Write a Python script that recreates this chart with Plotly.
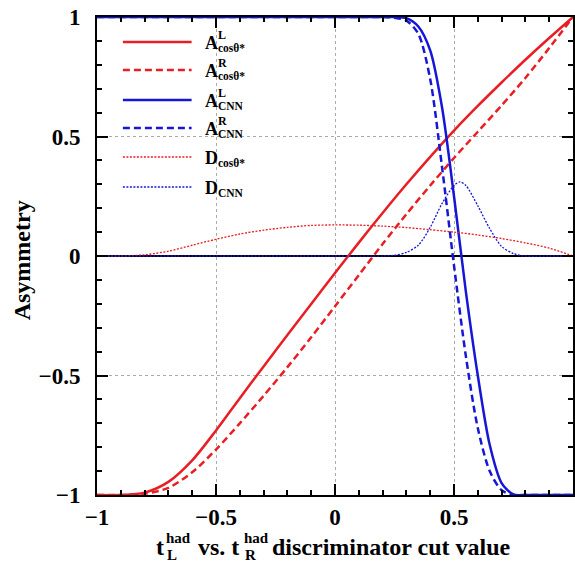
import plotly.graph_objects as go

# ---------------- data ----------------
cut = [-1.0, -0.9, -0.8, -0.7, -0.6, -0.5, -0.4, -0.3, -0.2, -0.1, 0.0,
       0.1, 0.2, 0.3, 0.4, 0.5, 0.6, 0.7, 0.8, 0.9, 1.0]
a_l_cos = [-1.0, -1.0, -0.99, -0.945, -0.855, -0.73, -0.595, -0.462, -0.331, -0.201, -0.071,
           0.056, 0.18, 0.3, 0.415, 0.525, 0.628, 0.726, 0.821, 0.912, 1.0]
a_r_cos = [-1.0, -1.0, -0.995, -0.97, -0.905, -0.81, -0.7, -0.585, -0.465, -0.34, -0.21,
           -0.08, 0.05, 0.175, 0.295, 0.41, 0.52, 0.63, 0.745, 0.87, 1.0]
d_cos = [0.0, 0.0, 0.005, 0.02, 0.045, 0.07, 0.092, 0.108, 0.12, 0.128, 0.13,
         0.129, 0.125, 0.119, 0.11, 0.1, 0.088, 0.073, 0.055, 0.033, 0.0]

cnn_cut = [-1.0, -0.5, 0.0, 0.2, 0.25, 0.3, 0.35, 0.4, 0.45, 0.5, 0.55, 0.6,
           0.65, 0.7, 0.75, 0.8, 0.9, 1.0]
a_l_cnn = [1.0, 1.0, 1.0, 1.0, 1.0, 0.995, 0.96, 0.86, 0.62, 0.25, -0.15, -0.5,
           -0.79, -0.95, -0.998, -1.0, -1.0, -1.0]
a_r_cnn = [1.0, 1.0, 1.0, 1.0, 0.997, 0.985, 0.93, 0.74, 0.37, -0.04, -0.42, -0.72,
           -0.9, -0.98, -1.0, -1.0, -1.0, -1.0]

dcnn_cut = [-1.0, 0.0, 0.2, 0.25, 0.3, 0.35, 0.4, 0.45, 0.5, 0.525, 0.55, 0.6,
            0.65, 0.7, 0.75, 0.8, 0.9, 1.0]
d_cnn = [0.0, 0.0, 0.0, 0.003, 0.015, 0.045, 0.12, 0.22, 0.295, 0.31, 0.295, 0.21,
         0.115, 0.04, 0.01, 0.0, 0.0, 0.0]

RED = "rgb(232,30,36)"
BLUE = "rgb(22,22,214)"
FONT = "Liberation Serif, Times New Roman, serif"

series = [
    (cut, a_l_cos, RED, "solid", 2.5, "A<sup>L</sup><sub>cosθ*</sub>"),
    (cut, a_r_cos, RED, "7px,4px", 2.5, "A<sup>R</sup><sub>cosθ*</sub>"),
    (cnn_cut, a_l_cnn, BLUE, "solid", 2.5, "A<sup>L</sup><sub>CNN</sub>"),
    (cnn_cut, a_r_cnn, BLUE, "7px,4px", 2.5, "A<sup>R</sup><sub>CNN</sub>"),
    (cut, d_cos, RED, "2px,1.5px", 1.3, "D<sub>cosθ*</sub>"),
    (dcnn_cut, d_cnn, BLUE, "2px,1.5px", 1.3, "D<sub>CNN</sub>"),
]

fig = go.Figure()
for xs, ys, col, dash, w, name in series:
    fig.add_trace(go.Scatter(x=xs, y=ys, mode="lines", name=name,
                             line=dict(color=col, dash=dash, width=w,
                                       shape="spline", smoothing=0.8),
                             showlegend=False))

# ---------------- layout geometry ----------------
L, T, R, B = 97, 17, 0, 71
W, H = 575, 566
PW, PH = W - L - R, H - T - B


def px(xp):
    return (xp - L) / PW


def py(yp):
    return (H - B - yp) / PH


axis_common = dict(
    range=[-1, 1], tickmode="linear", tick0=-1, dtick=0.5,
    showline=True, linecolor="black", linewidth=2, mirror="allticks",
    ticks="inside", ticklen=11, tickwidth=2, tickcolor="black",
    showgrid=True, gridcolor="#aaaaaa", griddash="dot", gridwidth=1,
    tickfont=dict(family=FONT, size=23, color="black", weight="bold"),
    minor=dict(ticks="inside", ticklen=5, tickwidth=1.5, tickcolor="black",
               dtick=0.1, showgrid=False),
)

fig.update_xaxes(zeroline=False, ticklabelstandoff=0, **axis_common)
fig.update_yaxes(zeroline=True, zerolinecolor="black", zerolinewidth=2,
                 ticklabelstandoff=10, **axis_common)

annotations = []
shapes = []

# ---------------- manual legend ----------------
rows = [42, 70, 100, 128, 157, 187]
leg_items = [
    (RED, "solid", 2.5, "A", "L", "cosθ*"),
    (RED, "7px,4px", 2.5, "A", "R", "cosθ*"),
    (BLUE, "solid", 2.5, "A", "L", "CNN"),
    (BLUE, "7px,4px", 2.5, "A", "R", "CNN"),
    (RED, "2px,1.5px", 1.3, "D", None, "cosθ*"),
    (BLUE, "2px,1.5px", 1.3, "D", None, "CNN"),
]
for yr, (col, dash, w, main, sup, sub) in zip(rows, leg_items):
    shapes.append(dict(type="line", xref="paper", yref="paper",
                       x0=px(123), x1=px(192), y0=py(yr), y1=py(yr),
                       line=dict(color=col, dash=dash, width=w)))
    annotations.append(dict(xref="paper", yref="paper", x=px(203), y=py(yr + 1),
                            xanchor="left", yanchor="middle", showarrow=False,
                            text=main,
                            font=dict(family=FONT, size=18, color="black", weight="bold")))
    if sup:
        annotations.append(dict(xref="paper", yref="paper", x=px(216), y=py(yr - 7),
                                xanchor="left", yanchor="middle", showarrow=False,
                                text=sup,
                                font=dict(family=FONT, size=12, color="black", weight="bold")))
    annotations.append(dict(xref="paper", yref="paper", x=px(216), y=py(yr + 6),
                            xanchor="left", yanchor="middle", showarrow=False,
                            text=sub,
                            font=dict(family=FONT, size=11.5, color="black", weight="bold")))

# ---------------- axis titles ----------------
def title_piece(xp, yp, text, size):
    annotations.append(dict(xref="paper", yref="paper", x=px(xp), y=py(yp),
                            xanchor="left", yanchor="middle", showarrow=False,
                            text=text,
                            font=dict(family=FONT, size=size, color="black", weight="bold")))


title_piece(154, 547, "t", 24)
title_piece(164, 538, "had", 15)
title_piece(165, 555, "L", 15)
title_piece(196, 547, "vs. t", 24)
title_piece(243, 538, "had", 15)
title_piece(244, 555, "R", 15)
title_piece(271, 547, "discriminator cut value", 24)

annotations.append(dict(xref="paper", yref="paper", x=px(22), y=py(260),
                        xanchor="center", yanchor="middle", showarrow=False,
                        text="Asymmetry", textangle=-90,
                        font=dict(family=FONT, size=24, color="black", weight="bold")))

fig.update_layout(
    width=W, height=H,
    margin=dict(l=L, r=R, t=T, b=B, pad=0),
    paper_bgcolor="white", plot_bgcolor="white",
    showlegend=False,
    annotations=annotations, shapes=shapes,
)

fig.write_html("out.html")
